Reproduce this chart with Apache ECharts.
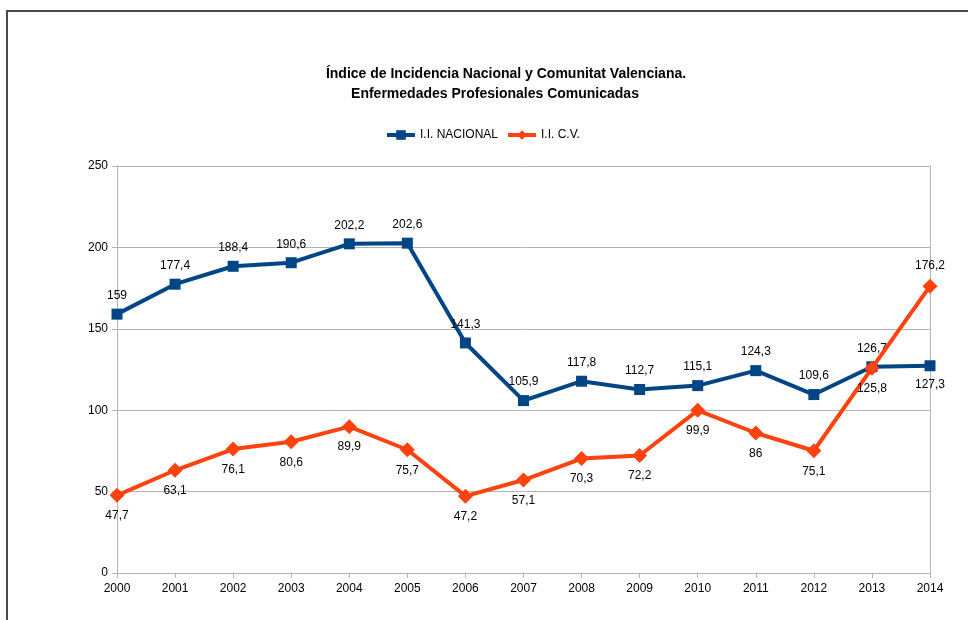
<!DOCTYPE html>
<html><head><meta charset="utf-8">
<script src="https://cdn.jsdelivr.net/npm/echarts@6/dist/echarts.min.js"></script>
<style>html,body{margin:0;padding:0;background:#fff}#c{width:968px;height:620px}</style>
</head><body><div id="c"></div>
<script>
const years = ['2000','2001','2002','2003','2004','2005','2006','2007','2008','2009','2010','2011','2012','2013','2014'];
const nacional = [159, 177.4, 188.4, 190.6, 202.2, 202.6, 141.3, 105.9, 117.8, 112.7, 115.1, 124.3, 109.6, 126.7, 127.3];
const cv = [47.7, 63.1, 76.1, 80.6, 89.9, 75.7, 47.2, 57.1, 70.3, 72.2, 99.9, 86, 75.1, 125.8, 176.2];
const yTicks = [0, 50, 100, 150, 200, 250];

const FONT = 'Liberation Sans, Arial, sans-serif';
const fmt = p => String(p.value).replace('.', ',');
const natData = nacional.map((v, i) => ({value: v, label: {position: i === 14 ? 'bottom' : 'top'}}));
const cvData = cv.map((v, i) => ({value: v, label: {position: i === 14 ? 'top' : 'bottom'}}));

const chart = echarts.init(document.getElementById('c'));
chart.setOption({
  animation: false,
  backgroundColor: '#fff',
  textStyle: {fontFamily: FONT},
  graphic: [{
    type: 'rect', shape: {x: 7, y: 11, width: 1000, height: 700},
    style: {fill: 'none', stroke: '#4a4a4a', lineWidth: 2}, silent: true
  }],
  title: [
    {text: 'Índice de Incidencia Nacional y Comunitat Valenciana.', left: 501, top: 62, textAlign: 'center',
     textStyle: {fontFamily: FONT, fontSize: 14, fontWeight: 'bold', color: '#000'}},
    {text: 'Enfermedades Profesionales Comunicadas', left: 490, top: 82, textAlign: 'center',
     textStyle: {fontFamily: FONT, fontSize: 14, fontWeight: 'bold', color: '#000'}}
  ],
  legend: {
    left: 380, top: 124, itemWidth: 28, itemHeight: 12, itemGap: 8,
    lineStyle: {width: 4},
    textStyle: {fontFamily: FONT, fontSize: 12, color: '#000'},
    data: ['I.I. NACIONAL', 'I.I. C.V.']
  },
  grid: {left: 117, right: 38, top: 166, bottom: 47, containLabel: false},
  xAxis: {
    type: 'category', data: years, boundaryGap: false,
    axisLine: {lineStyle: {color: '#b3b3b3', width: 1}},
    axisTick: {show: true, length: 5, lineStyle: {color: '#b3b3b3'}},
    axisLabel: {color: '#000', fontSize: 12, fontFamily: FONT, margin: 10},
    splitLine: {show: false}
  },
  yAxis: [{
    type: 'value', min: yTicks[0], max: yTicks[yTicks.length - 1], interval: 50,
    axisLine: {show: true, lineStyle: {color: '#b3b3b3', width: 1}},
    axisTick: {show: true, length: 5, lineStyle: {color: '#b3b3b3'}},
    axisLabel: {color: '#000', fontSize: 12, fontFamily: FONT, margin: 9},
    splitLine: {show: true, lineStyle: {color: '#b3b3b3', width: 1}}
  }, {
    type: 'value', position: 'right', min: yTicks[0], max: yTicks[yTicks.length - 1], interval: 50,
    axisLine: {show: true, lineStyle: {color: '#b3b3b3', width: 1}},
    axisTick: {show: false}, axisLabel: {show: false}, splitLine: {show: false}
  }],
  series: [
    {
      name: 'I.I. NACIONAL', type: 'line', data: natData,
      symbol: 'rect', symbolSize: 11,
      lineStyle: {color: '#004586', width: 4},
      itemStyle: {color: '#004586'},
      label: {show: true, formatter: fmt, color: '#000', fontSize: 12, fontFamily: FONT, distance: 7},
      z: 2
    },
    {
      name: 'I.I. C.V.', type: 'line', data: cvData,
      symbol: 'diamond', symbolSize: 15,
      lineStyle: {color: '#ff420e', width: 4},
      itemStyle: {color: '#ff420e'},
      label: {show: true, formatter: fmt, color: '#000', fontSize: 12, fontFamily: FONT, distance: 7},
      z: 3
    }
  ]
});
</script></body></html>
